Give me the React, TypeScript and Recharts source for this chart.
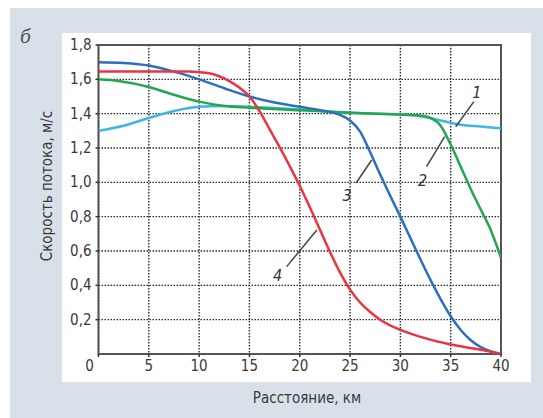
import React from "react";
import {
  LineChart,
  Line,
  XAxis,
  YAxis,
  CartesianGrid,
  ReferenceArea,
  ReferenceLine,
  ReferenceDot,
} from "recharts";

// Distance (km) / flow speed (m/s) readings for each curve
const curve1X = [0, 2.5, 5, 7.5, 10, 12.5, 15, 20, 25, 30, 32, 34, 36, 38, 40];
const curve1Y = [1.3, 1.33, 1.375, 1.415, 1.44, 1.445, 1.44, 1.425, 1.405, 1.395, 1.385, 1.36, 1.335, 1.325, 1.315];

const curve2X = [0, 2, 5, 7.5, 10, 12.5, 15, 20, 25, 30, 32, 33, 34, 35, 36, 37, 38, 39, 40];
const curve2Y = [1.6, 1.59, 1.555, 1.51, 1.47, 1.445, 1.435, 1.42, 1.405, 1.395, 1.39, 1.375, 1.33, 1.22, 1.09, 0.96, 0.84, 0.72, 0.56];

const curve3X = [0, 2.5, 5, 7.5, 10, 12.5, 15, 17.5, 20, 22.5, 24, 25, 26, 27, 28, 29, 30, 31, 32, 33, 34, 35, 36, 37, 38, 39, 40];
const curve3Y = [1.7, 1.695, 1.68, 1.645, 1.6, 1.548, 1.5, 1.465, 1.44, 1.415, 1.393, 1.36, 1.295, 1.175, 1.045, 0.92, 0.8, 0.675, 0.55, 0.43, 0.32, 0.22, 0.14, 0.08, 0.04, 0.015, 0.0];

const curve4X = [0, 5, 9, 10, 11, 12, 13, 14, 15, 16, 17, 18, 19, 20, 21, 22, 23, 24, 25, 26, 27, 28, 30, 32, 35, 38, 40];
const curve4Y = [1.645, 1.645, 1.645, 1.642, 1.635, 1.618, 1.59, 1.552, 1.5, 1.415, 1.31, 1.205, 1.095, 0.98, 0.855, 0.725, 0.595, 0.475, 0.375, 0.3, 0.245, 0.2, 0.14, 0.1, 0.055, 0.025, 0.0];

const xTicks = [0, 5, 10, 15, 20, 25, 30, 35, 40];
const yTicks = [0.2, 0.4, 0.6, 0.8, 1.0, 1.2, 1.4, 1.6, 1.8];

// Curve callouts: label text, label position, leader line ends (data units)
const calloutLabels = ["1", "2", "3", "4"];
const calloutTextX = [37.6, 32.2, 24.7, 17.8];
const calloutTextY = [1.528, 1.014, 0.926, 0.46];
const leaderX1 = [37.3, 32.6, 25.6, 18.7];
const leaderY1 = [1.47, 1.091, 0.996, 0.509];
const leaderX2 = [35.5, 34.4, 27.15, 21.7];
const leaderY2 = [1.324, 1.266, 1.13, 0.722];

const toPoints = (xs: number[], ys: number[]) => xs.map((x, i) => ({ x, y: ys[i] }));

const FONT = "'Liberation Sans Narrow', 'DejaVu Sans Condensed', 'Liberation Sans', Arial, sans-serif";
const TEXT = "#3a3a3a";

const fmt = (v: number) => v.toFixed(1).replace(".", ",");

const XTick = (props: any) => {
  const { x, y, payload } = props;
  const dx = payload.value === 0 ? -9 : 0;
  return (
    <text x={x + dx} y={y + 12} textAnchor="middle" fontFamily={FONT} fontSize={15} fill={TEXT}>
      {payload.value}
    </text>
  );
};

const YTick = (props: any) => {
  const { x, y, payload } = props;
  return (
    <text x={x - 2} y={y + 5} textAnchor="end" fontFamily={FONT} fontSize={15} fill={TEXT}>
      {fmt(payload.value)}
    </text>
  );
};

export default function App() {
  return (
    <div style={{ position: "absolute", left: 0, top: 0, width: 543, height: 418, background: "#ffffff", overflow: "hidden" }}>
      <div style={{ position: "absolute", left: 10, top: 8, width: 533, height: 410, background: "#d8e1e9" }} />
      <div style={{ position: "absolute", left: 62, top: 33, width: 469, height: 349, background: "#ffffff" }} />
      <div
        style={{
          position: "absolute",
          left: 20,
          top: 26,
          fontFamily: "'DejaVu Serif', 'Liberation Serif', serif",
          fontStyle: "italic",
          fontSize: 18,
          color: "#555",
        }}
      >
        б
      </div>
      <div
        style={{
          position: "absolute",
          left: 47,
          top: 186,
          transform: "translate(-50%, -50%) rotate(-90deg)",
          whiteSpace: "nowrap",
          fontFamily: FONT,
          fontSize: 15,
          color: TEXT,
        }}
      >
        Скорость потока, м/с
      </div>
      <div
        style={{
          position: "absolute",
          left: 307,
          top: 398,
          transform: "translate(-50%, -50%)",
          whiteSpace: "nowrap",
          fontFamily: FONT,
          fontSize: 15,
          color: TEXT,
        }}
      >
        Расстояние, км
      </div>
      <div style={{ position: "absolute", left: 0, top: 0 }}>
        <LineChart width={543} height={418} margin={{ top: 45, right: 42, bottom: 34, left: 58.5 }}>
          <CartesianGrid stroke="#2a2a2a" strokeWidth={1.4} strokeDasharray="1.5 1.5" />
          <XAxis
            type="number"
            dataKey="x"
            domain={[0, 40]}
            ticks={xTicks}
            height={30}
            tick={<XTick />}
            tickSize={3}
            tickLine={{ stroke: "#333", strokeWidth: 1.5 }}
            axisLine={false}
            allowDataOverflow
          />
          <YAxis
            type="number"
            dataKey="y"
            domain={[0, 1.8]}
            ticks={yTicks}
            width={40}
            tick={<YTick />}
            tickSize={3}
            tickLine={{ stroke: "#333", strokeWidth: 1.5 }}
            axisLine={false}
            allowDataOverflow
          />
          <ReferenceArea x1={0} x2={40} y1={0} y2={1.8} fill="none" stroke="#555" strokeWidth={2} />
          <Line data={toPoints(curve1X, curve1Y)} dataKey="y" type="monotone" stroke="#3db5e6" strokeWidth={2.5} dot={false} isAnimationActive={false} />
          <Line data={toPoints(curve2X, curve2Y)} dataKey="y" type="monotone" stroke="#22a84c" strokeWidth={2.5} dot={false} isAnimationActive={false} />
          <Line data={toPoints(curve3X, curve3Y)} dataKey="y" type="monotone" stroke="#2c6fc2" strokeWidth={2.5} dot={false} isAnimationActive={false} />
          <Line data={toPoints(curve4X, curve4Y)} dataKey="y" type="monotone" stroke="#ec3340" strokeWidth={2.5} dot={false} isAnimationActive={false} />
          {calloutLabels.map((lab, i) => (
            <ReferenceLine
              key={"l" + lab}
              segment={[
                { x: leaderX1[i], y: leaderY1[i] },
                { x: leaderX2[i], y: leaderY2[i] },
              ]}
              stroke="#444"
              strokeWidth={1.5}
            />
          ))}
          {calloutLabels.map((lab, i) => (
            <ReferenceDot
              key={"t" + lab}
              x={calloutTextX[i]}
              y={calloutTextY[i]}
              r={0}
              shape={(p: any) => (
                <text
                  x={p.cx}
                  y={p.cy + 6}
                  textAnchor="middle"
                  fontFamily={FONT}
                  fontStyle="italic"
                  fontSize={16}
                  fill="#333"
                >
                  {lab}
                </text>
              )}
            />
          ))}
        </LineChart>
      </div>
    </div>
  );
}
